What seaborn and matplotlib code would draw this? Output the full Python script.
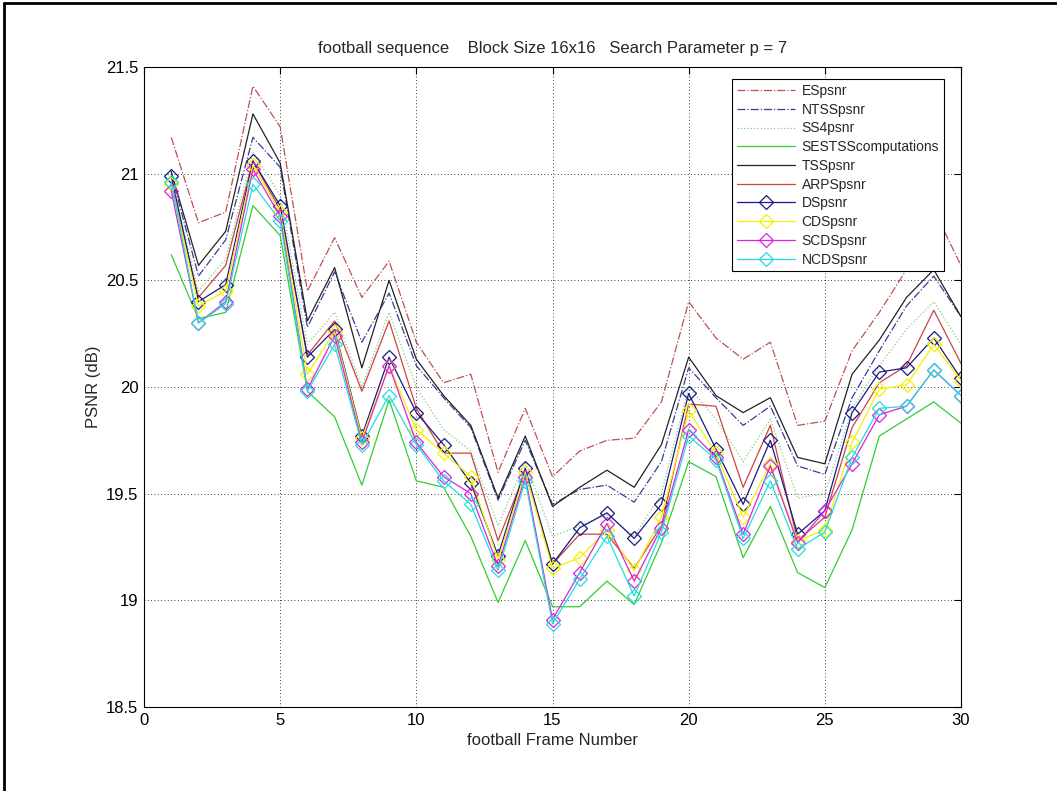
import numpy as np
import pandas as pd
import matplotlib
matplotlib.use("Agg")
import matplotlib.pyplot as plt
import seaborn as sns
from matplotlib.lines import Line2D
from matplotlib.ticker import FuncFormatter

frames = list(range(1, 31))

es = [21.17, 20.77, 20.82, 21.41, 21.22, 20.45, 20.70, 20.42, 20.59, 20.21,
      20.02, 20.06, 19.60, 19.90, 19.58, 19.70, 19.75, 19.76, 19.93, 20.40,
      20.23, 20.13, 20.21, 19.82, 19.84, 20.17, 20.35, 20.55, 20.83, 20.57]
ntss = [21.00, 20.52, 20.69, 21.17, 21.03, 20.28, 20.54, 20.21, 20.44, 20.10,
        19.95, 19.81, 19.47, 19.75, 19.45, 19.52, 19.54, 19.46, 19.65, 20.09,
        19.95, 19.82, 19.91, 19.63, 19.59, 19.95, 20.17, 20.38, 20.52, 20.33]
ss4 = [20.98, 20.45, 20.60, 21.10, 20.90, 20.20, 20.35, 20.00, 20.35, 20.00,
       19.80, 19.70, 19.35, 19.65, 19.30, 19.35, 19.40, 19.30, 19.50, 20.00,
       19.85, 19.65, 19.85, 19.48, 19.50, 19.90, 20.10, 20.27, 20.40, 20.20]
sestss = [20.62, 20.32, 20.35, 20.85, 20.71, 19.98, 19.86, 19.54, 19.94, 19.56,
          19.53, 19.30, 18.99, 19.28, 18.97, 18.97, 19.09, 18.98, 19.27, 19.65,
          19.58, 19.20, 19.44, 19.13, 19.06, 19.33, 19.77, 19.85, 19.93, 19.83]
tss = [21.01, 20.57, 20.73, 21.28, 21.05, 20.31, 20.56, 20.09, 20.50, 20.13,
       19.96, 19.82, 19.48, 19.77, 19.44, 19.53, 19.61, 19.53, 19.73, 20.14,
       19.96, 19.88, 19.95, 19.67, 19.64, 20.06, 20.22, 20.42, 20.55, 20.33]
arps = [20.95, 20.42, 20.57, 21.06, 20.83, 20.15, 20.31, 19.98, 20.31, 19.90,
        19.69, 19.69, 19.28, 19.60, 19.17, 19.31, 19.31, 19.15, 19.35, 19.92,
        19.91, 19.53, 19.82, 19.28, 19.39, 19.81, 20.02, 20.10, 20.36, 20.11]
ds = [20.99, 20.40, 20.48, 21.06, 20.85, 20.14, 20.27, 19.77, 20.14, 19.88,
      19.73, 19.55, 19.21, 19.62, 19.17, 19.34, 19.41, 19.29, 19.45, 19.97,
      19.71, 19.45, 19.75, 19.31, 19.42, 19.88, 20.07, 20.09, 20.23, 20.04]
cds = [20.95, 20.38, 20.45, 21.04, 20.82, 20.06, 20.26, 19.76, 20.10, 19.80,
       19.69, 19.58, 19.19, 19.60, 19.15, 19.20, 19.33, 19.14, 19.39, 19.89,
       19.69, 19.39, 19.64, 19.28, 19.33, 19.74, 19.99, 20.01, 20.20, 20.03]
scds = [20.92, 20.30, 20.40, 21.02, 20.80, 19.99, 20.24, 19.74, 20.10, 19.74,
        19.58, 19.50, 19.16, 19.58, 18.91, 19.13, 19.36, 19.09, 19.34, 19.80,
        19.67, 19.31, 19.63, 19.27, 19.42, 19.64, 19.87, 19.91, 20.08, 19.96]
ncds = [20.96, 20.30, 20.39, 20.95, 20.78, 19.98, 20.20, 19.73, 19.96, 19.73,
        19.56, 19.45, 19.14, 19.56, 18.89, 19.10, 19.30, 19.02, 19.32, 19.77,
        19.66, 19.29, 19.56, 19.24, 19.32, 19.67, 19.90, 19.91, 20.08, 19.96]

labels = ["ESpsnr", "NTSSpsnr", "SS4psnr", "SESTSScomputations", "TSSpsnr",
          "ARPSpsnr", "DSpsnr", "CDSpsnr", "SCDSpsnr", "NCDSpsnr"]
series = [es, ntss, ss4, sestss, tss, arps, ds, cds, scds, ncds]
colors = ["#c0504d", "#3a3a9a", "#7fd07f", "#33cc33", "#222222",
          "#cc4444", "#1a1a80", "#f2f200", "#dd22dd", "#22dddd"]
styles = ["-.", "-.", ":", "-", "-", "-", "-", "-", "-", "-"]
markers = [None, None, None, None, None, None, "D", "D", "D", "D"]

sns.set_style("white")
plt.rcParams['font.family'] = ['Liberation Sans', 'DejaVu Sans']

fig = plt.figure(figsize=(10.57, 7.91), dpi=100)
ax = fig.add_axes([144/1057, 1 - 707/791, (961-144)/1057, (707-67)/791])

for lab, vals, c, ls, mk in zip(labels, series, colors, styles, markers):
    kw = dict(color=c, linestyle=ls, linewidth=0.9, label=lab)
    if mk:
        kw.update(marker=mk, markersize=7, markerfacecolor='none',
                  markeredgecolor=c, markeredgewidth=0.9)
    sns.lineplot(x=frames, y=vals, ax=ax, **kw)

ax.set_xlim(0, 30)
ax.set_ylim(18.5, 21.5)
ax.set_xticks([0, 5, 10, 15, 20, 25, 30])
ax.set_yticks([18.5, 19, 19.5, 20, 20.5, 21, 21.5])
ax.yaxis.set_major_formatter(FuncFormatter(lambda v, p: "%g" % v))
ax.grid(True, color='black', linestyle=(0, (1, 3)), linewidth=0.6)
ax.tick_params(direction='in', length=5, width=0.8, top=True, right=True,
               labelsize=12, colors='black', pad=4)
for s in ax.spines.values():
    s.set_color('black')
    s.set_linewidth(0.8)
ax.set_xlabel("football Frame Number", fontsize=12, labelpad=4)
ax.set_ylabel("PSNR (dB)", fontsize=12, labelpad=4)
ax.set_title("football sequence    Block Size 16x16   Search Parameter p = 7",
             fontsize=12, pad=10)

leg = ax.legend(loc='upper right', bbox_to_anchor=(0.979, 0.981), fontsize=10,
                frameon=True, fancybox=False, framealpha=1, edgecolor='black',
                handlelength=4.2, labelspacing=0.34, borderpad=0.35,
                handletextpad=0.45, borderaxespad=0)
leg.get_frame().set_linewidth(0.8)

fig.add_artist(Line2D([0.004, 0.004], [0, 0.996], color='black', linewidth=2,
                      transform=fig.transFigure))
fig.add_artist(Line2D([0.004, 1], [0.996, 0.996], color='black', linewidth=2,
                      transform=fig.transFigure))

fig.savefig("out.png", dpi=100)
